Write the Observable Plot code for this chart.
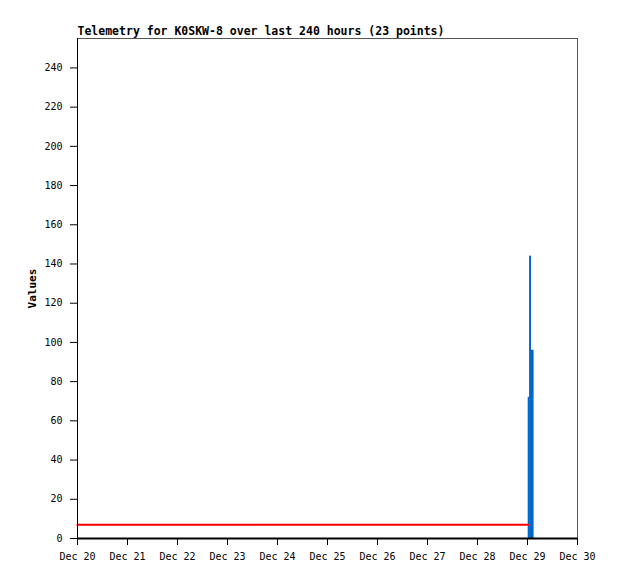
<!DOCTYPE html>
<html>
<head>
<meta charset="utf-8">
<script src="https://cdn.jsdelivr.net/npm/d3@7"></script>
<script src="https://cdn.jsdelivr.net/npm/@observablehq/plot@0.6"></script>
<style>
  html, body { margin: 0; padding: 0; background: #fff; }
  #chart svg { display: block; }
</style>
</head>
<body>
<div id="chart"></div>
<script>
const titleText = "Telemetry for K0SKW-8 over last 240 hours (23 points)";
const yLabel = "Values";
const xDomain = ["2024-12-20T00:00Z", "2024-12-30T00:00Z"];
const yDomain = [0, 255];
const yTicks = [0, 20, 40, 60, 80, 100, 120, 140, 160, 180, 200, 220, 240];
const xTicks = ["2024-12-20", "2024-12-21", "2024-12-22", "2024-12-23", "2024-12-24", "2024-12-25", "2024-12-26", "2024-12-27", "2024-12-28", "2024-12-29", "2024-12-30"];

// blue telemetry bars
const barStart = ["2024-12-29T00:20Z", "2024-12-29T01:00Z", "2024-12-29T01:55Z"];
const barEnd   = ["2024-12-29T01:00Z", "2024-12-29T01:55Z", "2024-12-29T03:10Z"];
const barValues = [72, 144, 96];

// red line series
const lineTimes = ["2024-12-20T00:00Z", "2024-12-29T00:20Z"];
const lineValues = [7, 7];

const bars = barValues.map((v, i) => ({x1: new Date(barStart[i]), x2: new Date(barEnd[i]), y: v}));
const line = lineValues.map((v, i) => ({x: new Date(lineTimes[i]), y: v}));

const fmt = d3.utcFormat("%b %d");

const chart = Plot.plot({
  width: 618,
  height: 579,
  marginLeft: 77,
  marginRight: 41,
  marginTop: 38,
  marginBottom: 41,
  style: {fontFamily: "'DejaVu Sans Mono', monospace", fontSize: "10px", color: "#000", background: "#fff"},
  x: {type: "utc", domain: xDomain.map(d => new Date(d))},
  y: {domain: yDomain},
  marks: [
    Plot.rectY(bars, {x1: "x1", x2: "x2", y: "y", fill: "#0066cc", inset: 0}),
    Plot.line(line, {x: "x", y: "y", stroke: "#ff0000", strokeWidth: 2}),
    // frame
    Plot.frame({anchor: "top", stroke: "#555"}),
    Plot.frame({anchor: "right", stroke: "#555"}),
    Plot.frame({anchor: "left", stroke: "#000"}),
    Plot.ruleY([0], {stroke: "#000", strokeWidth: 2}),
    Plot.axisY({ticks: yTicks, tickSize: 7, tickPadding: 8, label: null, stroke: "#000"}),
    Plot.axisX({ticks: xTicks.map(d => new Date(d + "T00:00Z")), tickFormat: fmt, tickSize: 7, tickPadding: 7, label: null}),
    Plot.text([yLabel], {frameAnchor: "left", dx: -45, rotate: -90, textAnchor: "middle", text: d => d, fontWeight: "bold", fontSize: 11}),
    Plot.text([titleText], {frameAnchor: "top-left", dy: -4, text: d => d, textAnchor: "start", lineAnchor: "bottom", fontWeight: "bold", fontSize: 11.5, textLength: 370, lengthAdjust: "spacingAndGlyphs"})
  ]
});
document.getElementById("chart").appendChild(chart);
</script>
</body>
</html>
